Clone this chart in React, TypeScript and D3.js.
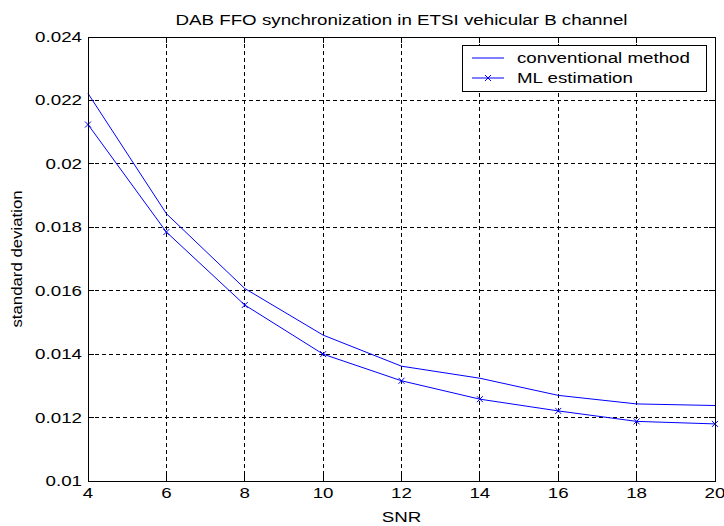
import React from "react";
import * as d3 from "d3";

const snr = [4, 6, 8, 10, 12, 14, 16, 18, 20];
const conventional = [0.02222, 0.01843, 0.01607, 0.0146, 0.01362, 0.01324, 0.0127, 0.01243, 0.01238];
const mlEstimation = [0.02124, 0.01785, 0.01555, 0.014, 0.01316, 0.01258, 0.01221, 0.01188, 0.0118];
const xTicks = [4, 6, 8, 10, 12, 14, 16, 18, 20];
const yTicks = [0.01, 0.012, 0.014, 0.016, 0.018, 0.02, 0.022, 0.024];
const seriesNames = ["conventional method", "ML estimation"];
const titleText = "DAB FFO synchronization in ETSI vehicular B channel";
const xLabel = "SNR";
const yLabel = "standard deviation";

const W = 724;
const H = 526;
const M = { left: 88, right: 715, top: 37, bottom: 481 };
const FONT = "'Liberation Sans', Arial, Helvetica, sans-serif";
const FS = 15;
const SX = 1.25;
const BLUE = "#0000ff";

function T({ x, y, anchor = "start", children }: { x: number; y: number; anchor?: string; children: React.ReactNode }) {
  return (
    <text
      transform={`translate(${x},${y}) scale(${SX},1)`}
      textAnchor={anchor as any}
      fontFamily={FONT}
      fontSize={FS}
      fill="#000"
    >
      {children}
    </text>
  );
}

function XMark({ cx, cy, r = 3 }: { cx: number; cy: number; r?: number }) {
  return (
    <path
      d={`M${cx - r},${cy - r}L${cx + r},${cy + r}M${cx - r},${cy + r}L${cx + r},${cy - r}`}
      stroke={BLUE}
      strokeWidth={1}
      fill="none"
    />
  );
}

export default function App() {
  const x = d3.scaleLinear().domain([4, 20]).range([M.left, M.right]);
  const y = d3.scaleLinear().domain([0.01, 0.024]).range([M.bottom, M.top]);
  const line = d3
    .line<number>()
    .x((_, i) => x(snr[i]))
    .y((d) => y(d));
  const fmt = (v: number) => String(+v.toFixed(3));
  const tickLen = 6;

  const lx = 462, ly = 45, lw = 244, lh = 46;

  return (
    <svg width={W} height={H} style={{ position: "absolute", left: 0, top: 0, background: "#fff" }}>
      <rect x={0} y={0} width={W} height={H} fill="#fff" />
      {/* grid */}
      {xTicks.slice(1, -1).map((t) => (
        <line key={"gx" + t} x1={x(t)} x2={x(t)} y1={M.top} y2={M.bottom} stroke="#000" strokeWidth={1} strokeDasharray="4,3" shapeRendering="crispEdges" />
      ))}
      {yTicks.slice(1, -1).map((t) => (
        <line key={"gy" + t} x1={M.left} x2={M.right} y1={y(t)} y2={y(t)} stroke="#000" strokeWidth={1} strokeDasharray="4,3" shapeRendering="crispEdges" />
      ))}
      {/* ticks */}
      {xTicks.map((t) => (
        <g key={"tx" + t}>
          <line x1={x(t)} x2={x(t)} y1={M.bottom} y2={M.bottom - tickLen} stroke="#000" shapeRendering="crispEdges" />
          <line x1={x(t)} x2={x(t)} y1={M.top} y2={M.top + tickLen} stroke="#000" shapeRendering="crispEdges" />
          <T x={x(t)} y={M.bottom + 17} anchor="middle">{String(t)}</T>
        </g>
      ))}
      {yTicks.map((t) => (
        <g key={"ty" + t}>
          <line x1={M.left} x2={M.left + tickLen} y1={y(t)} y2={y(t)} stroke="#000" shapeRendering="crispEdges" />
          <line x1={M.right} x2={M.right - tickLen} y1={y(t)} y2={y(t)} stroke="#000" shapeRendering="crispEdges" />
          <T x={M.left - 6} y={y(t) + 5} anchor="end">{fmt(t)}</T>
        </g>
      ))}
      {/* series */}
      <path d={line(conventional) || ""} fill="none" stroke={BLUE} strokeWidth={1} />
      <path d={line(mlEstimation) || ""} fill="none" stroke={BLUE} strokeWidth={1} />
      {mlEstimation.map((v, i) => (
        <XMark key={"m" + i} cx={x(snr[i])} cy={y(v)} />
      ))}
      {/* axes box */}
      <rect x={M.left} y={M.top} width={M.right - M.left} height={M.bottom - M.top} fill="none" stroke="#000" strokeWidth={1} shapeRendering="crispEdges" />
      {/* title & labels */}
      <T x={(M.left + M.right) / 2} y={25} anchor="middle">{titleText}</T>
      <T x={(M.left + M.right) / 2} y={522} anchor="middle">{xLabel}</T>
      <text
        transform={`translate(22,${(M.top + M.bottom) / 2}) rotate(-90) scale(1.12,1)`}
        textAnchor="middle"
        fontFamily={FONT}
        fontSize={FS}
        fill="#000"
      >
        {yLabel}
      </text>
      {/* legend */}
      <rect x={lx} y={ly} width={lw} height={lh} fill="#fff" stroke="#000" strokeWidth={1} shapeRendering="crispEdges" />
      <line x1={472} x2={504} y1={58} y2={58} stroke={BLUE} strokeWidth={1} />
      <T x={517} y={63}>{seriesNames[0]}</T>
      <line x1={472} x2={504} y1={78} y2={78} stroke={BLUE} strokeWidth={1} />
      <XMark cx={488} cy={78} />
      <T x={517} y={83}>{seriesNames[1]}</T>
    </svg>
  );
}
